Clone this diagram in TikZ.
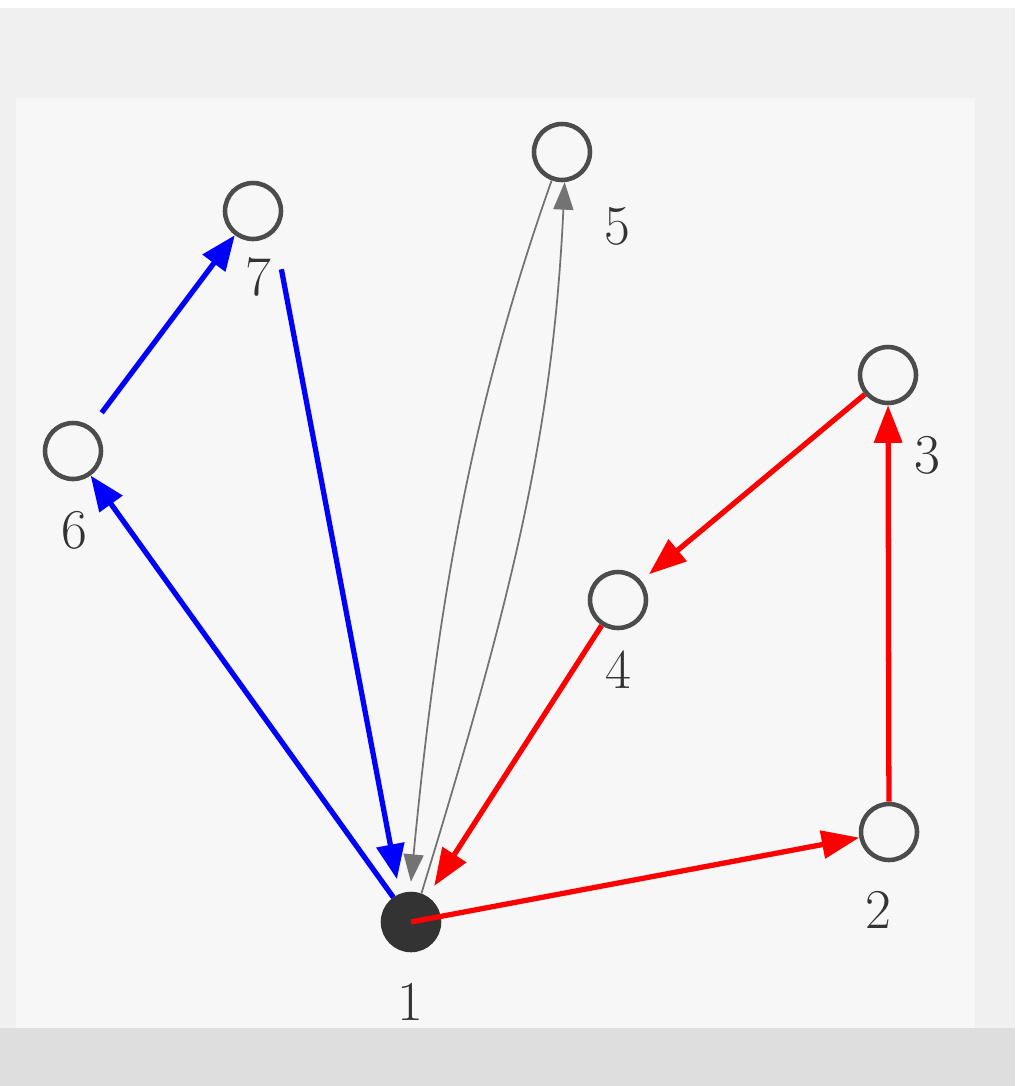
\documentclass[tikz,border=0pt]{standalone}
\usetikzlibrary{arrows.meta,calc}

\begin{document}
\begin{tikzpicture}[
    x=0.02cm,
    y=-0.02cm,
    font=\fontsize{32}{36}\selectfont,
    vertex/.style={
        circle,
        draw=black!70,
        line width=2.6pt,
        minimum size=1.12cm,
        inner sep=0pt,
        fill=black!3
    },
    root/.style={vertex, fill=black!80, draw=black!80},
    lbl/.style={inner sep=0pt, text=black!80},
    blueedge/.style={draw=blue, line width=3pt, -{Triangle[length=0.7cm, width=0.55cm]}},
    rededge/.style={draw=red, line width=3pt, -{Triangle[length=0.75cm, width=0.55cm]}},
    grayedge/.style={draw=black!55, line width=1pt, -{Triangle[length=0.55cm, width=0.4cm]}}
]

% ============================================================
% TLO
% ============================================================
\useasboundingbox (0,0) rectangle (1015,1086);
\fill[black!6] (0,0) rectangle (1015,1086);
\fill[white] (0,0) rectangle (1015,8);
\fill[black!13] (0,1028) rectangle (1015,1086);
\fill[black!3] (16,98) rectangle (975,1028);

% ============================================================
% WIERZCHOLKI
% ============================================================
\node[root] (n1) at (411,922) {};
\node[vertex] (n2) at (889,832) {};
\node[vertex] (n3) at (888,375) {};
\node[vertex] (n4) at (618,600) {};
\node[vertex] (n5) at (562,152) {};
\node[vertex] (n6) at (73,451) {};
\node[vertex] (n7) at (253,211) {};

\node[lbl] (l1) at (410,1002) {1};
\node[lbl] (l2) at (878,910) {2};
\node[lbl] (l3) at (927,455) {3};
\node[lbl] (l4) at (618,670) {4};
\node[lbl] (l5) at (617,226) {5};
\node[lbl] (l6) at (74,530) {6};
\node[lbl] (l7) at (258,277) {7};

% ============================================================
% CYKL NIEBIESKI
% ============================================================
\draw[blueedge] (n1) -- (n6);
\draw[blueedge, shorten <=0.35cm] (n6) -- (n7);
\draw[blueedge, shorten <=0.75cm, shorten >=0.3cm] (n7.south east) -- (n1.112);

% ============================================================
% CYKL SZARY
% ============================================================
\draw[grayedge] (n1.70) .. controls (512,598) and (553,432) .. (n5.-85);
\draw[grayedge, shorten >=0.2cm] (n5.250) .. controls (469,414) and (437,613) .. (n1.92);

% ============================================================
% CYKL CZERWONY
% ============================================================
\draw[rededge] (n1.center) -- (n2);
\draw[rededge] (n2) -- (n3);
\draw[rededge, shorten >=0.2cm] (n3) -- (n4);
\draw[rededge, shorten >=0.25cm] (n4) -- (n1);

\end{tikzpicture}
\end{document}
